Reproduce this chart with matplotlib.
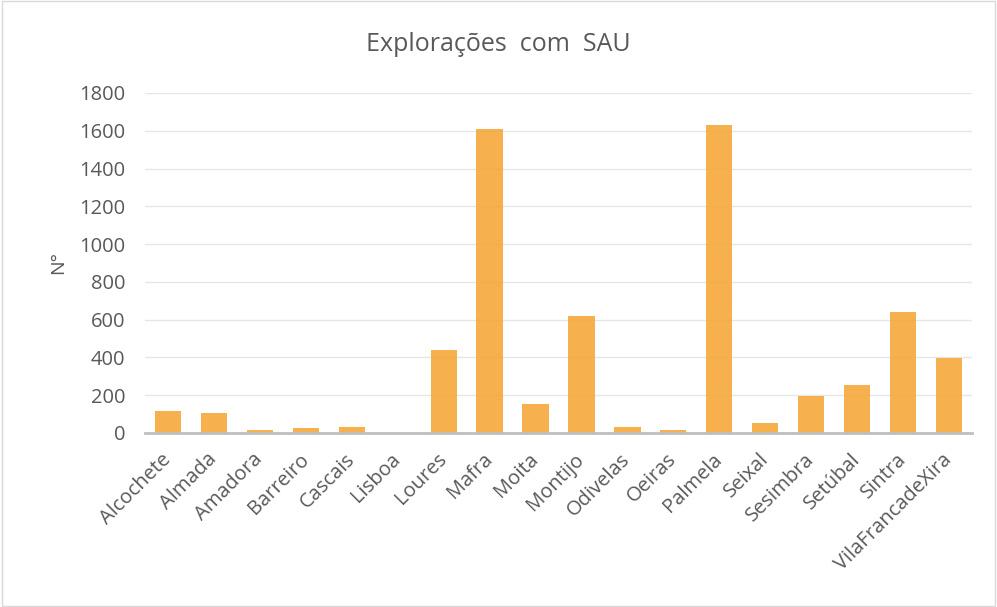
import numpy as np
import matplotlib.pyplot as plt
from matplotlib.patches import Rectangle

# municipalities and number of holdings with SAU
concelhos = ['Alcochete', 'Almada', 'Amadora', 'Barreiro', 'Cascais', 'Lisboa',
             'Loures', 'Mafra', 'Moita', 'Montijo', 'Odivelas', 'Oeiras',
             'Palmela', 'Seixal', 'Sesimbra', 'Setúbal', 'Sintra', 'VilaFrancadeXira']
exploracoes = [118, 108, 15, 25, 32, 2,
               440, 1610, 155, 620, 32, 15,
               1630, 53, 194, 252, 640, 398]
yticks = [0, 200, 400, 600, 800, 1000, 1200, 1400, 1600, 1800]

plt.rcParams['font.family'] = ['Open Sans', 'DejaVu Sans']
txt = '#595959'

fig = plt.figure(figsize=(9.97, 6.07), dpi=100)
fig.patches.append(Rectangle((0.002, 0.002), 0.996, 0.996, transform=fig.transFigure,
                             fill=False, edgecolor='#D9D9D9', linewidth=1))
ax = fig.add_axes([0.1454, 0.2867, 0.8296, 0.5601])

x = np.arange(len(concelhos))
ax.bar(x, exploracoes, width=0.57, color='#F5A83B', alpha=0.9, zorder=3)

ax.set_ylim(0, 1800)
ax.set_xlim(-0.5, len(concelhos) - 0.5)
ax.set_yticks(yticks)
ax.set_yticklabels([str(v) for v in yticks], fontsize=14.5, color=txt)
ax.set_xticks(x)
ax.set_xticklabels(concelhos, rotation=45, ha='right', va='center',
                   rotation_mode='anchor', fontsize=14.5, color=txt)
ax.tick_params(axis='y', length=0, pad=14)
ax.tick_params(axis='x', length=0, pad=17)
ax.grid(axis='y', color='#E6E6E6', linewidth=1, zorder=0)
for s in ['top', 'right', 'left']:
    ax.spines[s].set_visible(False)
ax.spines['bottom'].set_color('#BFBFBF')
ax.spines['bottom'].set_linewidth(2)
ax.spines['bottom'].set_zorder(4)

ax.set_ylabel('N°', fontsize=14, color=txt, labelpad=9)
fig.text(0.5, 0.927, 'Explorações  com  SAU', ha='center', va='center',
         fontsize=18, color=txt)

fig.savefig('out.png', dpi=100)
